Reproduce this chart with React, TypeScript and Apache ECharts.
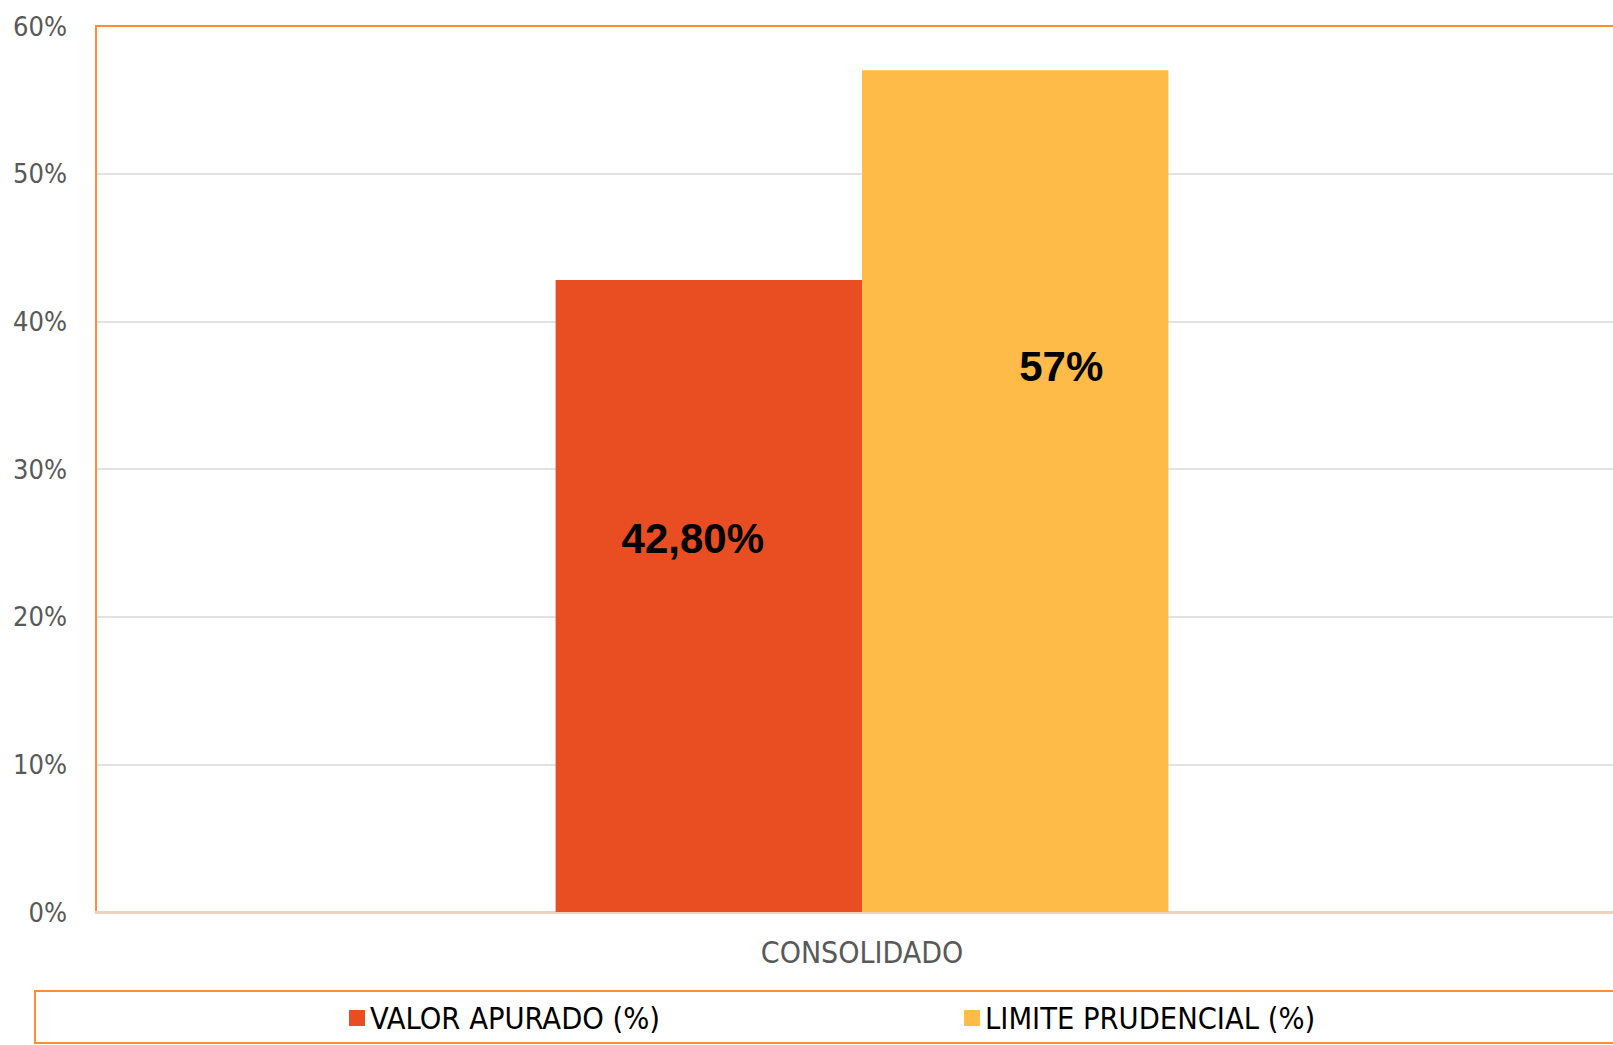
import React, { useEffect, useRef } from "react";
import * as echarts from "echarts";

const categories = ["CONSOLIDADO"];
const seriesNames = ["VALOR APURADO (%)", "LIMITE PRUDENCIAL (%)"];
const valorApurado = [42.8];
const limitePrudencial = [57];
const valorLabels = ["42,80%"];
const limiteLabels = ["57%"];
const yTicks = [0, 10, 20, 30, 40, 50, 60];

const NARROW = '"DejaVu Sans Condensed", "Liberation Sans Narrow", sans-serif';
const ORANGE = "#FF8C3A";

export default function App() {
  const ref = useRef<HTMLDivElement>(null);
  useEffect(() => {
    if (!ref.current) return;
    const chart = echarts.init(ref.current, undefined, { renderer: "svg" });
    chart.setOption({
      animation: false,
      backgroundColor: "#ffffff",
      grid: { left: 96, top: 26, right: 0, bottom: 133, containLabel: false },
      legend: {
        data: seriesNames,
        left: 344,
        top: 996,
        icon: "rect",
        itemWidth: 16,
        itemHeight: 16,
        itemGap: 304,
        textStyle: { fontFamily: NARROW, fontSize: 30.5, color: "#000000", lineHeight: 34 },
      },
      xAxis: {
        type: "category",
        data: categories,
        axisTick: { show: false },
        axisLine: { show: true, lineStyle: { color: "#EDD2BF", width: 3 } },
        axisLabel: { fontFamily: NARROW, fontSize: 30, color: "#595959", margin: 25 },
      },
      yAxis: {
        type: "value",
        min: yTicks[0],
        max: yTicks[yTicks.length - 1],
        interval: 10,
        axisLine: { show: false },
        axisTick: { show: false },
        axisLabel: { formatter: "{value}%", fontFamily: NARROW, fontSize: 27, color: "#595959", margin: 29 },
        splitLine: { lineStyle: { color: "#D9D9D9", width: 1.5 } },
      },
      graphic: [
        { type: "line", z: 100, shape: { x1: 96, y1: 26, x2: 1630, y2: 26 }, style: { stroke: ORANGE, lineWidth: 2 } },
        { type: "line", z: 100, shape: { x1: 96, y1: 25, x2: 96, y2: 911 }, style: { stroke: ORANGE, lineWidth: 2 } },
        { type: "rect", z: 100, shape: { x: 35, y: 991, width: 1620, height: 52 }, style: { fill: "none", stroke: ORANGE, lineWidth: 2 } },
      ],
      series: [
        {
          name: seriesNames[0],
          type: "bar",
          barGap: "0%",
          barCategoryGap: "60%",
          itemStyle: { color: "#E84E22" },
          data: valorApurado.map((v, i) => ({
            value: v,
            label: {
              show: true,
              position: "inside",
              offset: [-16, -57],
              formatter: () => valorLabels[i],
              fontFamily: '"Liberation Sans", Arial, sans-serif',
              fontWeight: "bold",
              fontSize: 42,
              color: "#000000",
            },
          })),
        },
        {
          name: seriesNames[1],
          type: "bar",
          barGap: "0%",
          barCategoryGap: "60%",
          itemStyle: { color: "#FFBB48" },
          data: limitePrudencial.map((v, i) => ({
            value: v,
            label: {
              show: true,
              position: "inside",
              offset: [46, -125],
              formatter: () => limiteLabels[i],
              fontFamily: '"Liberation Sans", Arial, sans-serif',
              fontWeight: "bold",
              fontSize: 42,
              color: "#000000",
            },
          })),
        },
      ],
    });
    return () => chart.dispose();
  }, []);
  return (
    <div style={{ position: "fixed", left: 0, top: 0, width: 1613, height: 1045, overflow: "hidden" }}>
      <div ref={ref} style={{ width: 1628, height: 1045 }} />
    </div>
  );
}
